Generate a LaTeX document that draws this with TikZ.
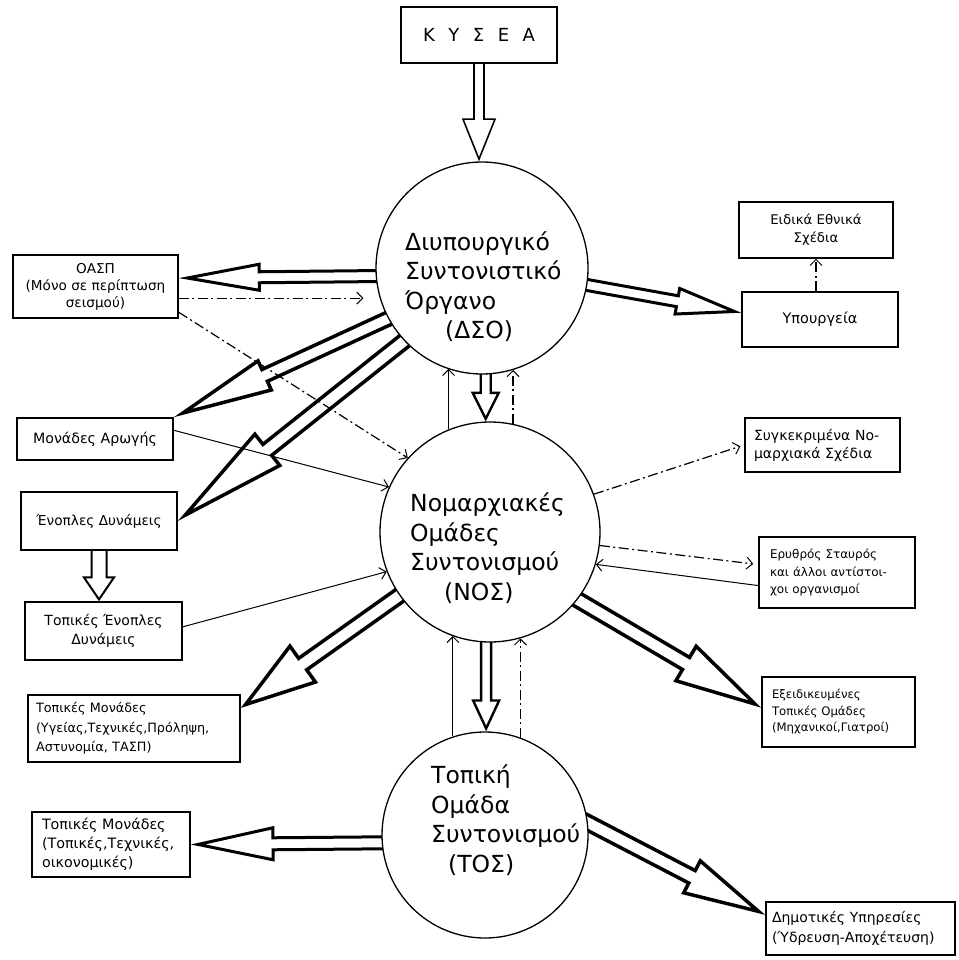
\documentclass[tikz,border=0pt]{standalone}
\usepackage{fontspec}
\setmainfont{DejaVu Sans}
\usetikzlibrary{calc,arrows.meta}
\pgfdeclarelayer{back}
\pgfdeclarelayer{arr}
\pgfsetlayers{back,arr,main}
\tikzset{
  fs/.style 2 args={font=\fontsize{#1}{#2}\selectfont},
  box/.style={draw, line width=1.6pt, inner sep=0pt},
  lbox/.style={box, align=left},
  cbox/.style={box, align=center},
  ring/.style={draw, circle, line width=1.3pt, fill=white, inner sep=0pt},
  bigtext/.style={align=left, inner sep=0pt, anchor=west, font=\fontsize{23.5}{29.5}\selectfont},
  blockarrow/.style={draw, fill=white, line join=miter, miter limit=20},
  thinarrow/.style={line width=1pt, -{Straight Barb[length=6pt,width=12pt,line width=1pt]}},
  dashdot/.style={thinarrow, line width=1.2pt, dash pattern=on 10pt off 3.5pt on 2pt off 3.5pt},
}
% block (hollow) arrow: [line width]{start}{tip}{half shaft}{half head}{head length}
\newcommand\blk[6][3.5]{%
  \coordinate (bA) at (#2);
  \coordinate (bE) at (#3);
  \pgfmathsetmacro\blkpull{#1/2/sin(atan(#5/#6))}%
  \coordinate (bB) at ($(bE)!\blkpull pt!(bA)$);
  \coordinate (bH) at ($(bB)!#6pt!(bA)$);
  \draw[blockarrow, line width=#1pt] ($(bA)!#4pt!90:(bB)$) -- ($(bH)!#4pt!-90:(bA)$) -- ($(bH)!#5pt!-90:(bA)$) -- (bB) -- ($(bH)!#5pt!90:(bA)$) -- ($(bH)!#4pt!90:(bA)$) -- ($(bA)!#4pt!-90:(bB)$);
}
\begin{document}
\begin{tikzpicture}[x=1pt,y=-1pt]
\begin{pgfonlayer}{back}
\fill[white] (0,0) rectangle (958,960);
\end{pgfonlayer}
\useasboundingbox (0,0) rectangle (958,960);

% circles
\node[ring, minimum size=212pt] (dso) at (482,268) {};
\node[ring, minimum size=220pt] (nos) at (490,532) {};
\node[ring, minimum size=206pt] (tos) at (485,835) {};
\node[bigtext] (dsot) at (405,286.5) {Διυπουργικό\\Συντονιστικό\\Όργανο\\\hspace*{40pt}(ΔΣΟ)};
\node[bigtext] (nost) at (410,548) {Νομαρχιακές\\Ομάδες\\Συντονισμού\\\hspace*{34pt}(ΝΟΣ)};
\node[bigtext] (tost) at (431,820) {Τοπική\\Ομάδα\\Συντονισμού\\\hspace*{17pt}(ΤΟΣ)};

% boxes
\node[box, minimum width=156pt, minimum height=56pt, font=\fontsize{18}{20}\selectfont\addfontfeatures{LetterSpace=75}] (kysea) at (479,35) {ΚΥΣΕΑ};
\node[cbox, fs={13.6}{17}, minimum width=165pt, minimum height=63pt] (oasp) at (95.5,286.5) {ΟΑΣΠ\\(Μόνο σε περίπτωση\\σεισμού)};
\node[cbox, fs={14.2}{17}, minimum width=156pt, minimum height=42pt] (mon) at (95,439) {Μονάδες Αρωγής};
\node[cbox, fs={13.7}{17}, minimum width=156pt, minimum height=58pt] (enop) at (99,521) {Ένοπλες Δυνάμεις};
\node[cbox, fs={14}{19}, minimum width=157pt, minimum height=58pt] (topen) at (103.5,631) {Τοπικές Ένοπλες\\Δυνάμεις};
\node[lbox, fs={12.8}{19.5}, inner xsep=8pt, text width=196pt, minimum height=67pt] (tmy) at (134,728.5) {Τοπικές Μονάδες\\(Υγείας,Τεχνικές,Πρόληψη,\\Αστυνομία, ΤΑΣΠ)};
\node[lbox, fs={14.3}{19}, inner xsep=10pt, text width=138pt, minimum height=65pt] (tmt) at (111,844.5) {Τοπικές Μονάδες\\(Τοπικές,Τεχνικές,\\οικονομικές)};
\node[cbox, fs={13.3}{18}, minimum width=154pt, minimum height=56pt] (eid) at (816,230) {Ειδικά Εθνικά\\Σχέδια};
\node[cbox, fs={14.5}{18}, minimum width=156pt, minimum height=55pt] (ypo) at (820,319.5) {Υπουργεία};
\node[lbox, fs={14}{18}, inner xsep=9pt, text width=137pt, minimum height=54pt] (syg) at (822.5,445) {Συγκεκριμένα Νο-\\μαρχιακά Σχέδια};
\node[lbox, fs={12}{17.5}, inner xsep=11pt, text width=134pt, minimum height=71pt] (ery) at (837,572.5) {Ερυθρός Σταυρός\\και άλλοι αντίστοι-\\χοι οργανισμοί};
\node[lbox, fs={11.7}{16.5}, inner xsep=10pt, text width=133pt, minimum height=70pt] (exe) at (838.5,712) {Εξειδικευμένες\\Τοπικές Ομάδες\\(Μηχανικοί,Γιατροί)};
\node[lbox, fs={14}{20}, inner xsep=6pt, text width=177pt, minimum height=53pt] (dim) at (860.5,928.5) {Δημοτικές Υπηρεσίες\\(Ύδρευση-Αποχέτευση)};

% block arrows
\begin{pgfonlayer}{arr}
\blk[1.6]{kysea.south}{kysea.south |- dso.north}{5}{16}{40}
\blk[3]{$(dso.center)!0.85!(dso.185)$}{$(oasp.north east)!0.37!(oasp.south east)$}{5.5}{13}{72}
\blk[3]{$(dso.center)!0.85!(dso.-9)$}{$(ypo.north west)!0.38!(ypo.south west)$}{5.5}{13}{58}
\blk[3.5]{$(dso.center)!0.85!(dso.209)$}{mon.north east}{6.5}{16}{90}
\blk[3.5]{$(dso.center)!0.85!(dso.224)$}{enop.east}{7}{20}{105}
\blk[2.4]{$(dso.272)+(0,-10)$}{dso.272 |- nos.93}{5}{13}{26}
\blk[3.5]{$(nos.center)!0.85!(nos.215)$}{$(tmy.north east)!0.2!(tmy.south east)$}{7}{22}{70}
\blk[3.5]{$(nos.center)!0.85!(nos.-39)$}{$(exe.north west)!0.44!(exe.south west)$}{7}{20}{80}
\blk[2.4]{$(nos.268)+(0,-10)$}{nos.268 |- tos.north}{5}{13}{28}
\blk[3]{$(tos.center)!0.85!(tos.185)$}{tmt.east}{6}{16}{75}
\blk[3.5]{$(tos.center)!0.85!(tos.14)$}{$(dim.north west)!0.25!(dim.south west)$}{7}{18}{75}
\blk[2]{enop.south}{enop.south |- topen.north}{7.5}{15}{22}
\end{pgfonlayer}

% thin solid arrows
\draw[thinarrow] ($(mon.north east)!0.3!(mon.south east)$) -- (nos.156);
\draw[thinarrow] ($(topen.north east)!0.43!(topen.south east)$) -- (nos.201);
\draw[thinarrow] ($(ery.north west)!0.68!(ery.south west)$) -- (nos.-17);
\draw[thinarrow] (nos.112) -- (nos.112 |- dso.251);
\draw[thinarrow] (tos.108) -- (tos.108 |- nos.250);

% dash-dot arrows
\coordinate (oaspD) at ($(oasp.north east)!0.68!(oasp.south east)$);
\draw[dashdot, shorten >=16pt] (oaspD) -- (oaspD -| dso.196);
\draw[dashdot] ($(oasp.north east)!0.9!(oasp.south east)$) -- (nos.138);
\draw[dashdot] (nos.78) -- (nos.78 |- dso.287);
\draw[dashdot] (tos.70) -- (tos.70 |- nos.286);
\draw[dashdot, shorten >=4pt] (nos.20) -- (syg.west);
\draw[dashdot, shorten >=5pt] (nos.-7) -- ($(ery.north west)!0.39!(ery.south west)$);
\draw[dashdot] (eid.south |- ypo.north) -- (eid.south);
\end{tikzpicture}
\end{document}
